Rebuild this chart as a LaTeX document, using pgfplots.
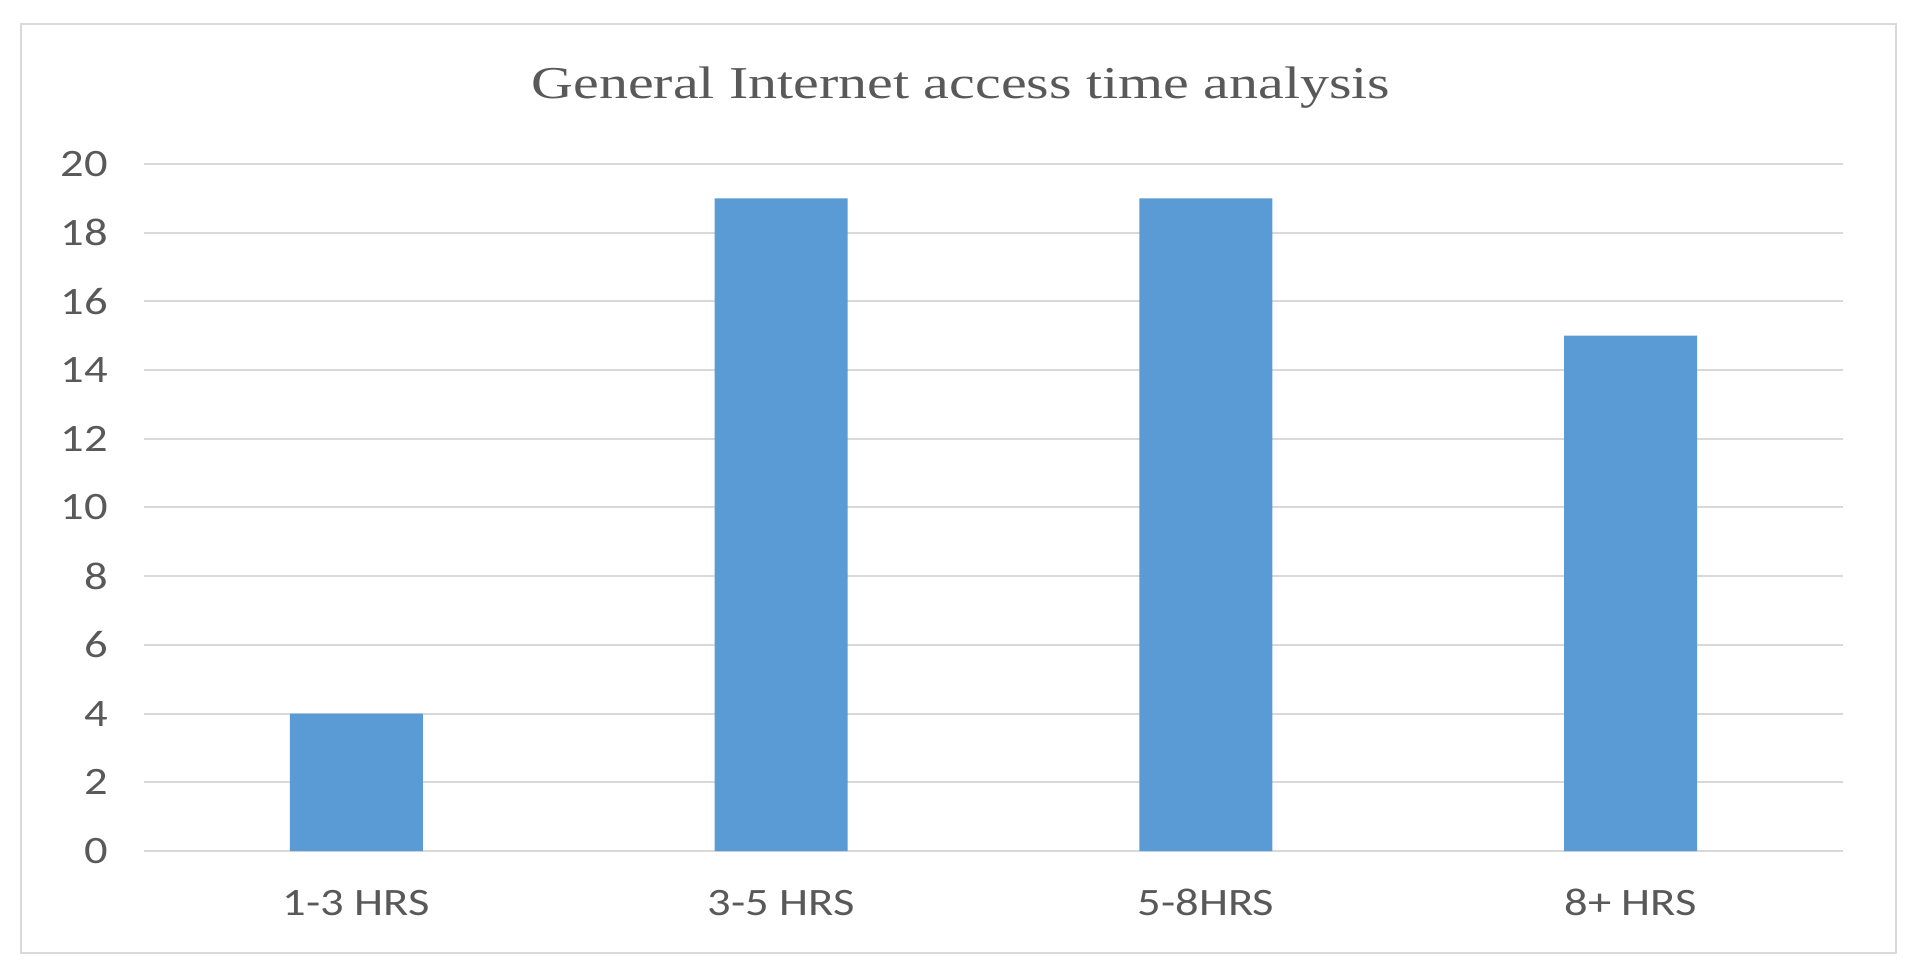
\documentclass[border=0pt]{standalone}
\usepackage{fontspec}
\usepackage{pgfplots}
\pgfplotsset{compat=1.18}
\newfontfamily\labelfont[FakeStretch=1.2]{Carlito}
\newfontfamily\titlefont[FakeStretch=1.27]{Liberation Serif}
\definecolor{barblue}{HTML}{5B9BD5}
\definecolor{txtgray}{HTML}{595959}
\definecolor{gridgray}{HTML}{D9D9D9}

\begin{document}
\begin{tikzpicture}[x=1pt,y=1pt]
% page and chart frame (1px = 0.5pt)
\fill[white] (0,0) rectangle (960,487.5);
\draw[gridgray, line width=1pt] (10.5,11) rectangle (948,475.5);
\begin{axis}[
    at={(72pt,62pt)}, anchor=south west,
    scale only axis,
    width=849.5pt, height=343.5pt,
    xmin=-0.5, xmax=3.5, ymin=0, ymax=20,
    xtick={0,1,2,3},
    xticklabels={1-3 HRS,3-5 HRS,5-8HRS,8+ HRS},
    ytick={0,2,...,20},
    ymajorgrids,
    grid style={gridgray, line width=1pt},
    axis line style={draw=none},
    major tick length=0pt,
    ticklabel style={font=\labelfont\fontsize{19.4}{22}\selectfont, text=txtgray},
    yticklabel style={anchor=east, inner sep=0pt, xshift=-18pt},
    xticklabel style={anchor=base, inner sep=0pt, yshift=-32pt},
    /pgf/number format/assume math mode=true,
]
\addplot[ybar, bar width=66.5pt, fill=barblue, draw=none] coordinates {
    (0,4) (1,19) (2,19) (3,15)
};
\end{axis}
\node[font=\titlefont\fontsize{22.8}{26}\selectfont, text=txtgray, anchor=base, inner sep=0pt]
    at (480.5,438) {General Internet access time analysis};
\end{tikzpicture}
\end{document}
